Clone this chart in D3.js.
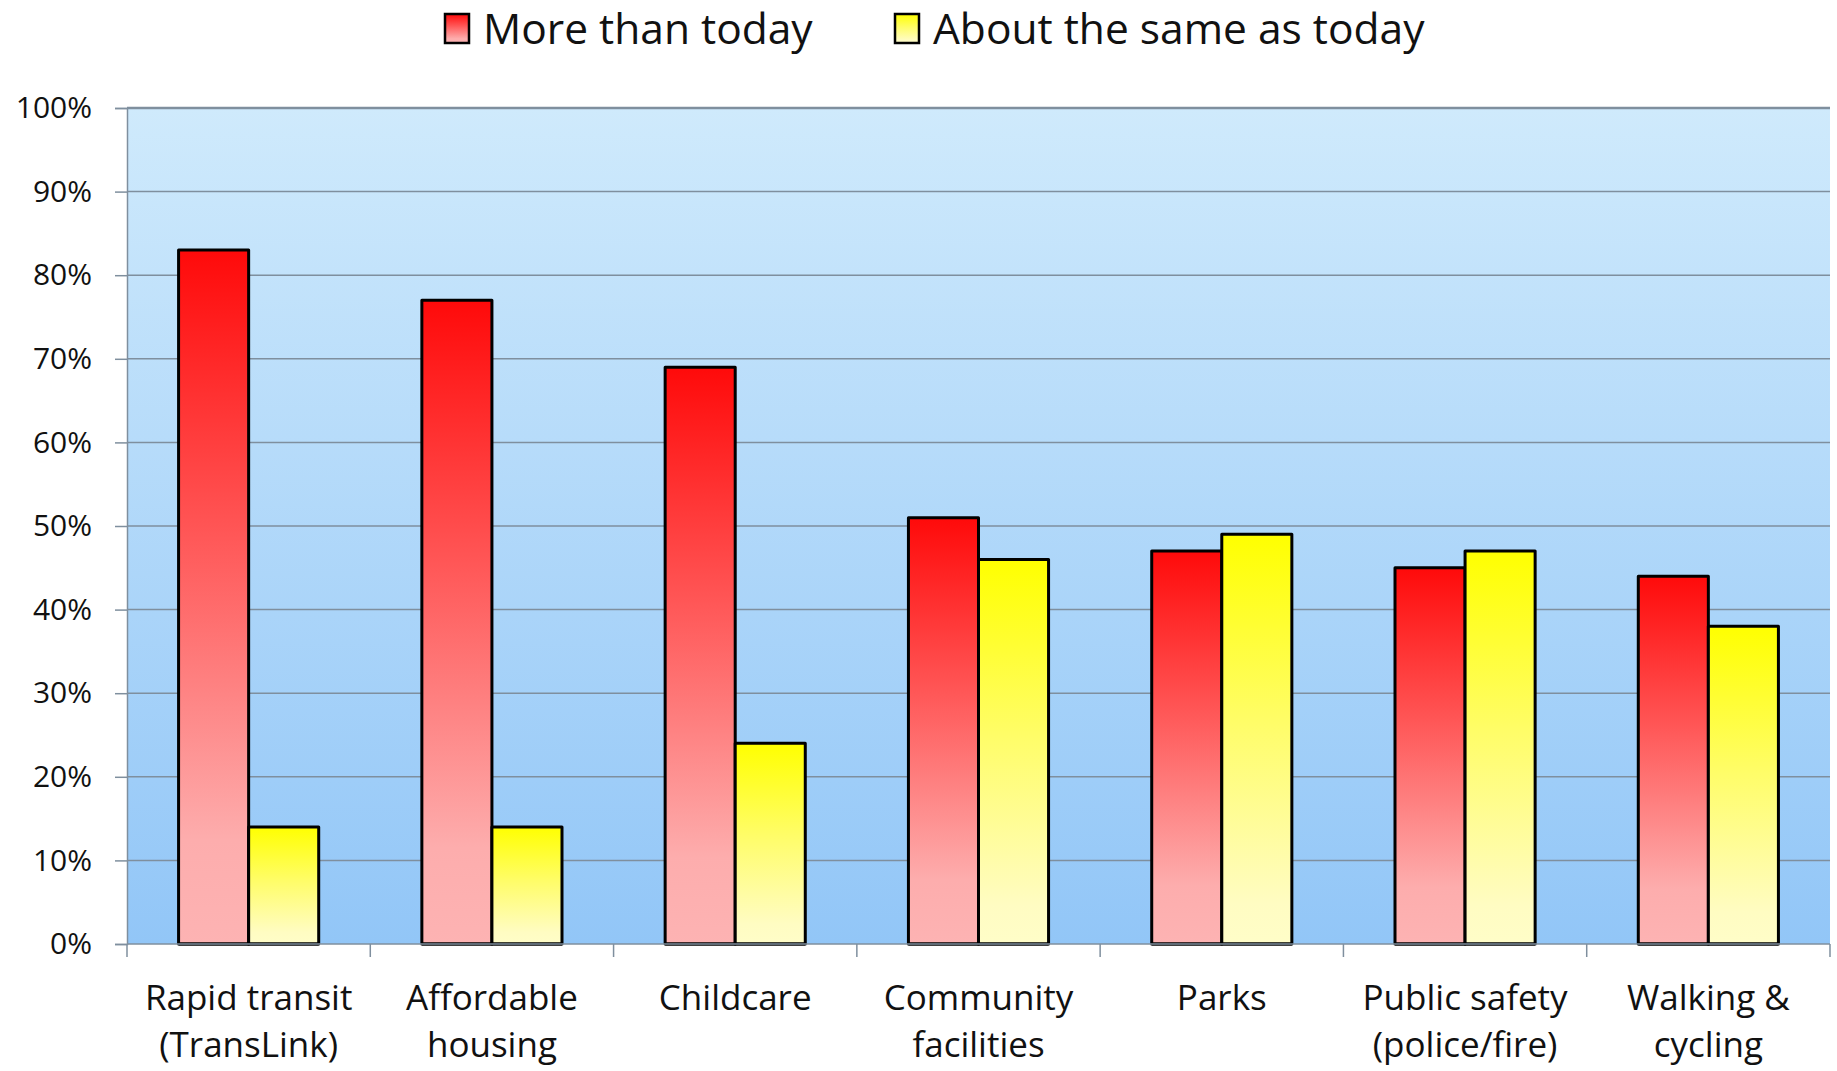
<!DOCTYPE html>
<html>
<head>
<meta charset="utf-8">
<script src="https://cdn.jsdelivr.net/npm/d3@7"></script>
<style>
  body { margin: 0; background: #fff; }
  text { font-family: "Open Sans", sans-serif; fill: #111; }
</style>
</head>
<body>
<div id="chart"></div>
<script>
var svgWidth = 1837;
var svgHeight = 1071;

// data
var categories = ["Rapid transit|(TransLink)", "Affordable|housing", "Childcare",
    "Community|facilities", "Parks", "Public safety|(police/fire)", "Walking &|cycling"];
var seriesNames = ["More than today", "About the same as today"];
var moreValues = [83, 77, 69, 51, 47, 45, 44];
var sameValues = [14, 14, 24, 46, 49, 47, 38];
var yTicks = [0, 10, 20, 30, 40, 50, 60, 70, 80, 90, 100];

var margin = { top: 108, right: 7, bottom: 127, left: 127 };
var width = svgWidth - margin.left - margin.right;
var height = svgHeight - margin.top - margin.bottom;

var svg = d3.select("#chart").append("svg")
    .attr("width", svgWidth)
    .attr("height", svgHeight);

var defs = svg.append("defs");

// plot background gradient
var bg = defs.append("linearGradient").attr("id", "bgGrad")
    .attr("x1", 0).attr("y1", 0).attr("x2", 0).attr("y2", 1);
bg.append("stop").attr("offset", "0%").attr("stop-color", "#cfeafc");
bg.append("stop").attr("offset", "100%").attr("stop-color", "#92c6f7");

var redGrad = defs.append("linearGradient").attr("id", "redGrad")
    .attr("x1", 0).attr("y1", 0).attr("x2", 0).attr("y2", 1);
redGrad.append("stop").attr("offset", "0%").attr("stop-color", "#ff0a0a");
redGrad.append("stop").attr("offset", "40%").attr("stop-color", "#ff5555");
redGrad.append("stop").attr("offset", "85%").attr("stop-color", "#fdadad");
redGrad.append("stop").attr("offset", "100%").attr("stop-color", "#fdb3b3");

var yelGrad = defs.append("linearGradient").attr("id", "yelGrad")
    .attr("x1", 0).attr("y1", 0).attr("x2", 0).attr("y2", 1);
yelGrad.append("stop").attr("offset", "0%").attr("stop-color", "#ffff00");
yelGrad.append("stop").attr("offset", "45%").attr("stop-color", "#fffd66");
yelGrad.append("stop").attr("offset", "90%").attr("stop-color", "#fffcc2");
yelGrad.append("stop").attr("offset", "100%").attr("stop-color", "#fffdc8");

var fills = ["url(#redGrad)", "url(#yelGrad)"];

var chartGroup = svg.append("g")
    .attr("transform", `translate(${margin.left}, ${margin.top})`);

// scales
var x0 = d3.scaleBand().domain(categories).range([0, width]).padding(0);
var gap = x0.bandwidth() * 0.212;
var x1 = d3.scaleBand().domain(seriesNames).range([gap, x0.bandwidth() - gap]).padding(0);
var y = d3.scaleLinear().domain([0, 100]).range([height, 0]);

chartGroup.append("rect")
    .attr("x", 0).attr("y", 0)
    .attr("width", width).attr("height", height)
    .attr("fill", "url(#bgGrad)");

// gridlines
chartGroup.append("g")
    .selectAll("line")
    .data(yTicks.slice(1))
    .enter()
    .append("line")
    .attr("x1", 0).attr("x2", width)
    .attr("y1", d => y(d)).attr("y2", d => y(d))
    .attr("stroke", "#7f8f9e")
    .attr("stroke-width", d => d === 100 ? 2.5 : 1.5);

// y axis
var leftAxis = d3.axisLeft(y).tickValues(yTicks).tickSize(12).tickPadding(23)
    .tickFormat(d => d + "%");
var yAxis = chartGroup.append("g").call(leftAxis);
yAxis.select(".domain").attr("stroke", "#7f8f9e").attr("stroke-width", 1.5);
yAxis.selectAll(".tick line").attr("stroke", "#7f8f9e").attr("stroke-width", 1.5);
yAxis.selectAll(".tick text")
    .attr("font-size", 30)
    .attr("font-family", "Open Sans, sans-serif")
    .attr("fill", "#111");

// bars
var rows = categories.map((c, i) => ({ cat: c, vals: [moreValues[i], sameValues[i]] }));
var groups = chartGroup.selectAll(".grp")
    .data(rows)
    .enter()
    .append("g")
    .attr("transform", d => `translate(${x0(d.cat)}, 0)`);

groups.selectAll("rect")
    .data(d => d.vals.map((v, k) => ({ series: seriesNames[k], value: v, k: k })))
    .enter()
    .append("rect")
    .attr("x", d => x1(d.series))
    .attr("y", d => y(d.value))
    .attr("width", x1.bandwidth())
    .attr("height", d => height - y(d.value))
    .attr("fill", d => fills[d.k])
    .attr("stroke", "#000")
    .attr("stroke-width", 3)
    .attr("stroke-linejoin", "round");

// x axis baseline and boundary ticks
var xAxisG = chartGroup.append("g").attr("transform", `translate(0, ${height})`);
xAxisG.append("line")
    .attr("x1", 0).attr("x2", width)
    .attr("stroke", "#7f8f9e").attr("stroke-width", 1.5);
var bounds = categories.map(c => x0(c)).concat([width]);
xAxisG.selectAll(".bt")
    .data(bounds)
    .enter()
    .append("line")
    .attr("x1", d => d).attr("x2", d => d)
    .attr("y1", 0).attr("y2", 13)
    .attr("stroke", "#7f8f9e").attr("stroke-width", 1.5);

// bar baselines drawn over the axis
groups.append("line")
    .attr("x1", x1(seriesNames[0])).attr("x2", x1(seriesNames[1]) + x1.bandwidth())
    .attr("y1", height).attr("y2", height)
    .attr("stroke", "#000").attr("stroke-width", 3);

// category labels
var labels = xAxisG.selectAll(".lbl")
    .data(categories)
    .enter()
    .append("text")
    .attr("text-anchor", "middle")
    .attr("font-size", 35)
    .attr("x", d => x0(d) + x0.bandwidth() / 2);
labels.selectAll("tspan")
    .data(d => d.split("|"))
    .enter()
    .append("tspan")
    .attr("x", function() { return d3.select(this.parentNode).attr("x"); })
    .attr("y", (d, i) => 66 + i * 47)
    .text(d => d);

// legend
var legend = svg.append("g");
var legendX = [445, 895];
seriesNames.forEach(function(name, i) {
    var g = legend.append("g").attr("transform", `translate(${legendX[i]}, 14)`);
    g.append("rect")
        .attr("x", 0).attr("y", 0)
        .attr("width", 24).attr("height", 29)
        .attr("fill", fills[i])
        .attr("stroke", "#000").attr("stroke-width", 2.5);
    g.append("text")
        .attr("x", 38).attr("y", 30)
        .attr("font-size", 42.5)
        .text(name);
});
</script>
</body>
</html>
